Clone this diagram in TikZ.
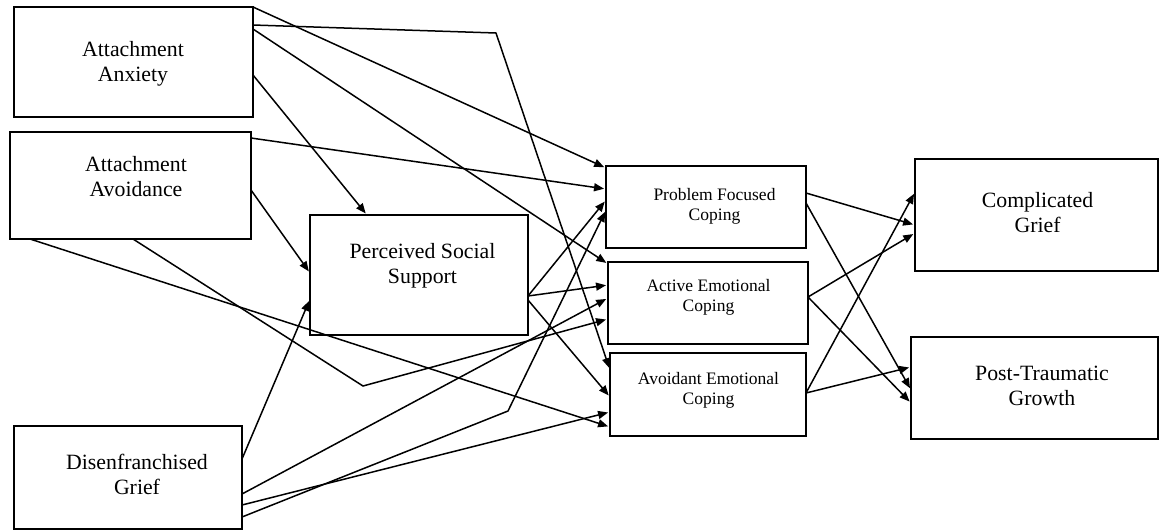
\documentclass[tikz,border=0pt]{standalone}
\usepackage{fontspec}
\setmainfont{Liberation Serif}
\usetikzlibrary{arrows.meta}
\begin{document}
\begin{tikzpicture}[x=1pt,y=-1pt,
  box/.style={draw, line width=1.7pt, inner sep=0pt, outer sep=0pt},
  lbl/.style={align=center, inner sep=0pt, font=\fontsize{21.8}{25}\selectfont},
  slbl/.style={align=center, inner sep=0pt, font=\fontsize{17.5}{20}\selectfont},
  conn/.style={line width=1.5pt, shorten >=2pt, -{Triangle[length=10pt,width=8pt]}},
]
\useasboundingbox (0,0) rectangle (1160,531);

% boxes
\node[box, minimum width=239pt, minimum height=110pt] (aa) at (133.5,62) {};
\node[box, minimum width=241pt, minimum height=107pt] (aav) at (130.5,185.5) {};
\node[box, minimum width=218pt, minimum height=120pt] (pss) at (419,275) {};
\node[box, minimum width=228pt, minimum height=103pt] (dg) at (128,477.5) {};
\node[box, minimum width=200pt, minimum height=82pt] (pfc) at (706,207) {};
\node[box, minimum width=200pt, minimum height=82pt] (aec) at (708,303) {};
\node[box, minimum width=196pt, minimum height=83pt] (avec) at (708,394.5) {};
\node[box, minimum width=243pt, minimum height=112pt] (cg) at (1036.5,215) {};
\node[box, minimum width=247pt, minimum height=102pt] (ptg) at (1034.5,388) {};

% labels
\node[lbl] (aat) at (133,63.8) {Attachment\\Anxiety};
\node[lbl] (aavt) at (136,177) {Attachment\\Avoidance};
\node[lbl] (psst) at (422.5,265.4) {Perceived Social\\Support};
\node[lbl] (dgt) at (137,474.2) {Disenfranchised\\Grief};
\node[slbl] (pfct) at (714.5,205.9) {Problem Focused\\Coping};
\node[slbl] (aect) at (708.5,297.8) {Active Emotional\\Coping};
\node[slbl] (avect) at (708.5,390.2) {Avoidant Emotional\\Coping};
\node[lbl] (cgt) at (1037.5,212.5) {Complicated\\Grief};
\node[lbl] (ptgt) at (1042,386) {Post-Traumatic\\Growth};

% bend points
\coordinate (k1) at (496,33);
\coordinate (k2) at (363,386);
\coordinate (k3) at (508,411);

% connectors
\draw[conn] (aa.north east) -- (pfc.west |- 0,168);
\draw[conn] (aa.east |- 0,25) -- (k1) -- (avec.west |- 0,370);
\draw[conn] (aa.east |- 0,29) -- (aec.west |- 0,264);
\draw[conn] (aa.east |- 0,75) -- (pss.north -| 367,0);
\draw[conn] (aav.east |- 0,138) -- (pfc.west |- 0,189);
\draw[conn] (aav.east |- 0,190) -- (pss.west |- 0,273);
\draw[conn] (aav.south -| 30,0) -- (avec.west |- 0,427);
\draw[conn] (aav.south -| 133,0) -- (k2) -- (aec.west |- 0,319);
\draw[conn] (dg.east |- 0,459) -- (pss.west |- 0,299);
\draw[conn] (dg.east |- 0,494) -- (aec.west |- 0,298);
\draw[conn] (dg.east |- 0,517) -- (k3) -- (pfc.west |- 0,210);
\draw[conn] (dg.east |- 0,505) -- (avec.west |- 0,412);
\draw[conn] (pss.east |- 0,296) -- (pfc.west |- 0,200);
\draw[conn] (pss.east |- 0,296) -- (aec.west |- 0,285);
\draw[conn] (pss.east |- 0,300) -- (avec.west |- 0,397);
\draw[conn] (pfc.east |- 0,193) -- (cg.west |- 0,225);
\draw[conn] (pfc.east |- 0,203) -- (ptg.west |- 0,390);
\draw[conn] (aec.east |- 0,297) -- (cg.west |- 0,233);
\draw[conn] (aec.east |- 0,297) -- (ptg.west |- 0,403);
\draw[conn] (avec.east |- 0,393) -- (cg.west |- 0,192);
\draw[conn] (avec.east |- 0,393) -- (ptg.west |- 0,367);
\end{tikzpicture}
\end{document}
